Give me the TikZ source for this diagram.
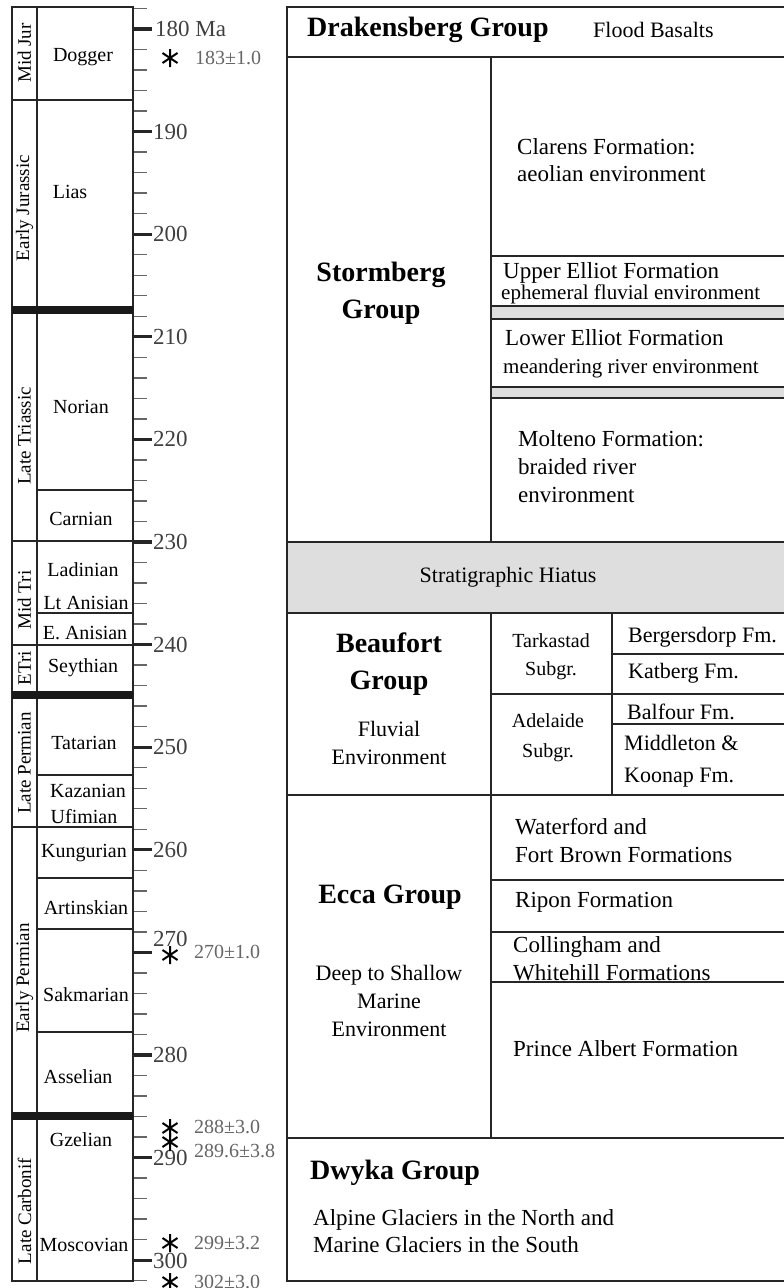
\documentclass[tikz,border=0pt]{standalone}
\usepackage{fontspec}
\setmainfont{Liberation Serif}
\usetikzlibrary{positioning}

\begin{document}
\begin{tikzpicture}[x=1pt, y=-1pt,
    rule/.style={line width=1.2pt, black!85},
    thickrule/.style={line width=7.5pt, black!90},
    minortick/.style={line width=1.4pt, black!60},
    majortick/.style={line width=3.2pt, black!85},
    stagelbl/.style={inner sep=0pt, font=\fontsize{20}{22}\selectfont},
    epochlbl/.style={inner sep=0pt, rotate=90, font=\fontsize{19}{21}\selectfont},
    ticklbl/.style={inner sep=0pt, anchor=west, text=black!75, font=\fontsize{23}{25}\selectfont},
    datelbl/.style={inner sep=0pt, anchor=west, text=black!60, font=\fontsize{20}{22}\selectfont},
    grplbl/.style={inner sep=0pt, align=center, font=\bfseries\fontsize{28}{37}\selectfont},
    fmlbl/.style={inner sep=0pt, anchor=west, align=left, font=\fontsize{23}{28}\selectfont},
    envlbl/.style={inner sep=0pt, align=center, font=\fontsize{22}{28}\selectfont},
    smalllbl/.style={inner sep=0pt, anchor=west, font=\fontsize{21}{24}\selectfont},
    cellfm/.style={inner sep=0pt, anchor=west, align=left, font=\fontsize{22}{32}\selectfont},
    subgrp/.style={inner sep=0pt, align=center, font=\fontsize{20}{28}\selectfont},
    hiatus/.style={fill=black!13},
    datestar/.pic={\draw[line width=2pt] (0,-9) -- (0,9) (-7.5,-5) -- (7.5,5) (-7.5,5) -- (7.5,-5);}
  ]
  \useasboundingbox (0,0) rectangle (784,1288);

  % time scale, 178--302 Ma
  \foreach \m in {178,180,...,302}{
    \pgfmathsetmacro{\ty}{29+(\m-180)*10.26}
    \draw[minortick] (133,\ty) -- (147,\ty);
  }
  \foreach \m in {180,190,...,300}{
    \pgfmathsetmacro{\ty}{29+(\m-180)*10.26}
    \draw[majortick] (133,\ty) -- (152,\ty);
  }
  \foreach \m in {190,200,210,220,230,240,250,260,280,290}{
    \pgfmathsetmacro{\ty}{29+(\m-180)*10.26}
    \node[ticklbl] (ma\m) at (153,\ty) {\m};
  }
  \node[ticklbl] (ma180) at (155,29) {180 Ma};
  \node[ticklbl] (ma270) at (153,939) {270};
  \node[ticklbl] (ma300) at (153,1261) {300};

  % radiometric dates
  \foreach \sx/\sy in {170/58, 170/955, 170/1128, 170/1142, 170/1243, 170/1282}
    \pic at (\sx,\sy) {datestar};
  \node[datelbl] (d183) at (195,58) {183±1.0};
  \node[datelbl] (d270) at (194,952) {270±1.0};
  \node[datelbl] (d288) at (194,1127) {288±3.0};
  \node[datelbl] (d289) at (194,1151) {289.6±3.8};
  \node[datelbl] (d299) at (194,1243) {299±3.2};
  \node[datelbl] (d302) at (194,1282) {302±3.0};

  % epochs and stages
  \draw[rule] (12,7) rectangle (133,1281);
  \draw[rule] (37,7) -- (37,1281);
  \foreach \ty in {100,541,645,827} \draw[rule] (12,\ty) -- (133,\ty);
  \foreach \ty in {490,613,775,878,929,1032} \draw[rule] (37,\ty) -- (133,\ty);
  \foreach \ty in {310,695,1116} \draw[thickrule] (12,\ty) -- (133,\ty);

  \node[epochlbl] (midjur) at (24.5,53) {Mid Jur};
  \node[epochlbl] (earlyjur) at (24.5,208) {Early Jurassic};
  \node[epochlbl] (latetri) at (24.5,436) {Late Triassic};
  \node[epochlbl] (midtri) at (24.5,600) {Mid Tri};
  \node[epochlbl] (etri) at (24.5,668) {ETri};
  \node[epochlbl] (lateperm) at (24.5,763) {Late Permian};
  \node[epochlbl] (earlyperm) at (24.5,978) {Early Permian};
  \node[epochlbl] (latecarb) at (24.5,1211) {Late Carbonif};

  \node[stagelbl] (dogger) at (83,57) {Dogger};
  \node[stagelbl] (lias) at (70,192) {Lias};
  \node[stagelbl] (norian) at (81,407) {Norian};
  \node[stagelbl] (carnian) at (81,519) {Carnian};
  \node[stagelbl] (ladinian) at (83,570) {Ladinian};
  \node[stagelbl] (ltanisian) at (86,603) {Lt Anisian};
  \node[stagelbl] (eanisian) at (85,633) {E. Anisian};
  \node[stagelbl] (seythian) at (83,668) {Seythian};
  \node[stagelbl] (tatarian) at (84,743) {Tatarian};
  \node[stagelbl] (kazanian) at (88,791) {Kazanian};
  \node[stagelbl] (ufimian) at (84,817) {Ufimian};
  \node[stagelbl] (kungurian) at (84,853) {Kungurian};
  \node[stagelbl] (artinskian) at (86,908) {Artinskian};
  \node[stagelbl] (sakmarian) at (86,995) {Sakmarian};
  \node[stagelbl] (asselian) at (78,1077) {Asselian};
  \node[stagelbl] (gzelian) at (81,1140) {Gzelian};
  \node[stagelbl] (moscovian) at (84,1245) {Moscovian};

  % lithostratigraphy
  \fill[hiatus] (491,306) rectangle (784,319) (491,387) rectangle (784,398)
    (287,542) rectangle (784,613);
  \draw[rule] (784,7) -- (287,7) -- (287,1281) -- (784,1281);
  \foreach \ty in {57,542,613,795,1138} \draw[rule] (287,\ty) -- (784,\ty);
  \draw[rule] (491,57) -- (491,542) (491,613) -- (491,1138);
  \draw[rule] (612,613) -- (612,795);
  \foreach \ty in {256,306,319,387,398,694,880,932,982} \draw[rule] (491,\ty) -- (784,\ty);
  \foreach \ty in {654,724} \draw[rule] (612,\ty) -- (784,\ty);

  \node[grplbl, anchor=west] (drak) at (307,30) {Drakensberg Group};
  \node[fmlbl, font=\fontsize{22}{26}\selectfont] (flood) at (593,30) {Flood Basalts};

  \node[grplbl] (storm) at (381,293) {Stormberg\\Group};
  \node[fmlbl, font=\fontsize{23}{27}\selectfont] (clarens) at (517,160) {Clarens Formation:\\aeolian environment};
  \node[fmlbl] (uelliot) at (503,273) {Upper Elliot Formation};
  \node[smalllbl] (uelliotenv) at (501,294) {ephemeral fluvial environment};
  \node[fmlbl] (lelliot) at (505,338) {Lower Elliot Formation};
  \node[smalllbl] (lelliotenv) at (503,368) {meandering river environment};
  \node[fmlbl] (molteno) at (518,467) {Molteno Formation:\\braided river\\environment};

  \node[envlbl] (hiatuslbl) at (508,577) {Stratigraphic Hiatus};

  \node[grplbl] (beaufort) at (389,664) {Beaufort\\Group};
  \node[envlbl] (fluvial) at (389,743) {Fluvial\\Environment};
  \node[subgrp] (tarkastad) at (551,657) {Tarkastad\\Subgr.};
  \node[subgrp, font=\fontsize{20}{30}\selectfont] (adelaide) at (548,738) {Adelaide\\Subgr.};
  \node[cellfm] (bergersdorp) at (628,637) {Bergersdorp Fm.};
  \node[cellfm] (katberg) at (628,673) {Katberg Fm.};
  \node[cellfm] (balfour) at (627,712) {Balfour Fm.};
  \node[cellfm] (middleton) at (624,761) {Middleton \&\\Koonap Fm.};

  \node[grplbl] (ecca) at (390,897) {Ecca Group};
  \node[envlbl] (eccaenv) at (389,1001) {Deep to Shallow\\Marine\\Environment};
  \node[fmlbl] (waterford) at (515,841) {Waterford and\\Fort Brown Formations};
  \node[fmlbl] (ripon) at (515,902) {Ripon Formation};
  \node[fmlbl] (collingham) at (513,959) {Collingham and\\Whitehill Formations};
  \node[fmlbl] (princealbert) at (513,1049) {Prince Albert Formation};

  \node[grplbl, anchor=west] (dwyka) at (310,1173) {Dwyka Group};
  \node[fmlbl, font=\fontsize{23}{27}\selectfont] (glaciers) at (313,1231) {Alpine Glaciers in the North and\\Marine Glaciers in the South};
\end{tikzpicture}
\end{document}
